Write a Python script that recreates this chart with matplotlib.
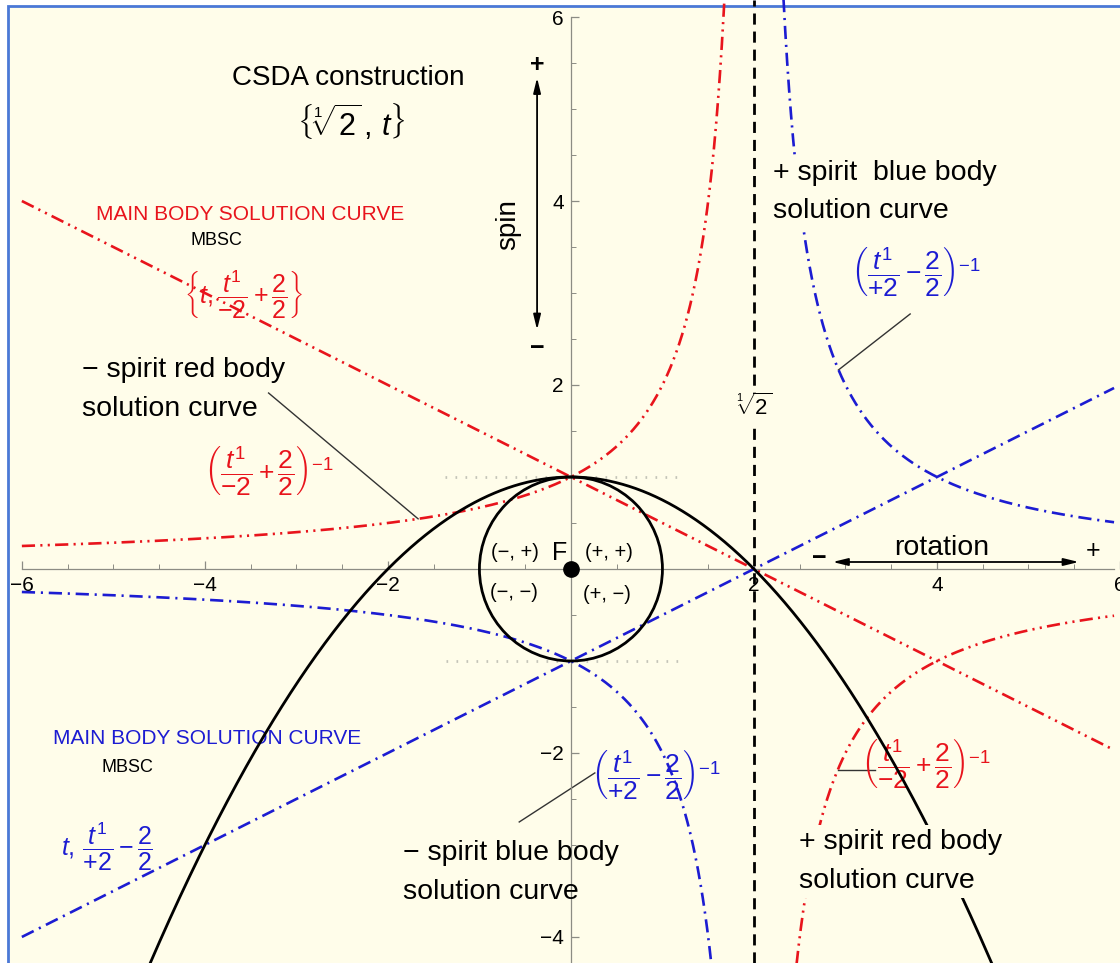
import numpy as np
import matplotlib
matplotlib.use('Agg')
import matplotlib.pyplot as plt
from matplotlib.patches import Circle, Rectangle
from matplotlib.ticker import MultipleLocator

plt.rcParams['font.family'] = ['Liberation Sans', 'DejaVu Sans']
plt.rcParams['mathtext.fontset'] = 'custom'
plt.rcParams['mathtext.rm'] = 'Liberation Sans'
plt.rcParams['mathtext.it'] = 'Liberation Sans:italic'
plt.rcParams['mathtext.bf'] = 'Liberation Sans:bold'

# construction parameters
root = 2.0          # shared root of the body curves (x = 2)
apex = 1.0          # height of the main parabola / circle radius
x_ticks = [-6, -4, -2, 2, 4, 6]
y_ticks = [-4, -2, 2, 4, 6]
quadrants = ['(\u2212, +)', '(+, +)', '(\u2212, \u2212)', '(+, \u2212)']

RED = '#e8141c'
BLUE = '#1c1cd2'
CREAM = '#fffdea'

xlim = (-6.239, 5.935)
ylim = (-4.283, 6.185)

fig = plt.figure(figsize=(11.2, 9.63), dpi=100)
fig.patch.set_facecolor('white')
fig.patches.append(Rectangle((0.007, -0.05), 1.2, 1.044, transform=fig.transFigure,
                             facecolor=CREAM, edgecolor='#4a78d6', lw=2, zorder=-5))
ax = fig.add_axes([0, 0, 1, 1])
ax.set_facecolor('none')
ax.set_xlim(*xlim)
ax.set_ylim(*ylim)

# axes through the origin
for side in ['top', 'right']:
    ax.spines[side].set_visible(False)
ax.spines['left'].set_position(('data', 0))
ax.spines['bottom'].set_position(('data', 0))
ax.spines['bottom'].set_bounds(-6, xlim[1])
ax.spines['left'].set_bounds(ylim[0], 6)
for side in ['left', 'bottom']:
    ax.spines[side].set_color('#8c8c84')
    ax.spines[side].set_linewidth(0.9)
ax.set_xticks(x_ticks)
ax.set_yticks(y_ticks)
ax.xaxis.set_minor_locator(MultipleLocator(0.5))
ax.yaxis.set_minor_locator(MultipleLocator(0.5))
ax.tick_params(which='both', direction='in', color='#8c8c84', labelsize=15, pad=5)
ax.tick_params(which='major', length=6, width=0.9)
ax.tick_params(which='minor', length=3.5, width=0.7)

x = np.linspace(-6, xlim[1], 4000)

# main body parabola and unit circle
ax.plot(x, apex - x**2 / (2 * root), color='black', lw=2, zorder=4)
ax.add_patch(Circle((0, 0), apex, fill=False, color='black', lw=2, zorder=4))

# main body solution lines
red_ls = (0, (5, 2, 0.8, 2, 0.8, 2))
blue_ls = (0, (5, 2.2, 0.8, 2.2))
ax.plot(x, x / -root + root / 2, color=RED, lw=1.9, ls=red_ls, zorder=3)
ax.plot(x, x / root - root / 2, color=BLUE, lw=1.9, ls=blue_ls, zorder=3)

# spirit body curves (reciprocals), split at the asymptote
for branch in [x[x < root - 1e-3], x[x > root + 1e-3]]:
    red = 1 / (branch / -root + root / 2)
    blue = 1 / (branch / root - root / 2)
    red[np.abs(red) > 12] = np.nan
    blue[np.abs(blue) > 12] = np.nan
    ax.plot(branch, red, color=RED, lw=1.9, ls=red_ls, zorder=3)
    ax.plot(branch, blue, color=BLUE, lw=1.9, ls=blue_ls, zorder=3)

# asymptote and tangent guides
ax.axvline(root, color='black', lw=2, ls=(0, (4, 2.5)), zorder=2)
ax.plot([-1.38, 1.2], [apex, apex], color='#c4c4b8', lw=2, ls=(0, (0.6, 3)), zorder=1)
ax.plot([-1.37, 1.26], [-apex, -apex], color='#c4c4b8', lw=2, ls=(0, (0.6, 3)), zorder=1)

# focus and quadrant labels
ax.plot(0, 0, 'o', color='black', ms=11, zorder=6)
ax.text(-0.12, 0.17, 'F', fontsize=18, ha='center', va='center', zorder=6)
for (qx, qy), q in zip([(-0.61, 0.18), (0.42, 0.18), (-0.62, -0.26), (0.39, -0.28)], quadrants):
    ax.text(qx, qy, q, fontsize=14.5, ha='center', va='center', zorder=6)

ax.text(root, 1.76, r'$\sqrt[1]{2}$', fontsize=16, ha='center', va='center',
        bbox=dict(facecolor=CREAM, edgecolor='none', pad=1), zorder=5)

# title
ax.text(-2.435, 5.337, 'CSDA construction', fontsize=20, ha='center', va='center')
ax.text(-2.40, 4.86, r'$\left\{\sqrt[1]{2}\,,\, t\right\}$', fontsize=22,
        ha='center', va='center')

# spin and rotation arrows
arrow = dict(arrowstyle='<|-|>,head_width=0.22,head_length=0.9', color='black', lw=1.3,
             shrinkA=0, shrinkB=0)
ax.annotate('', xy=(-0.37, 5.34), xytext=(-0.37, 2.6), arrowprops=arrow)
ax.text(-0.37, 5.48, '+', fontsize=18, ha='center', va='center', fontweight='bold')
ax.text(-0.37, 2.40, '\u2212', fontsize=18, ha='center', va='center', fontweight='bold')
ax.text(-0.69, 3.74, 'spin', fontsize=20, rotation=90, ha='center', va='center')
ax.annotate('', xy=(5.55, 0.076), xytext=(2.86, 0.076), arrowprops=arrow)
ax.text(2.71, 0.12, '\u2212', fontsize=18, ha='center', va='center', fontweight='bold')
ax.text(5.71, 0.2, '+', fontsize=18, ha='center', va='center')
ax.text(4.05, 0.23, 'rotation', fontsize=20.5, ha='center', va='center')

# red body labels
ax.text(-5.185, 3.85, 'MAIN BODY SOLUTION CURVE', color=RED, fontsize=15, va='center')
ax.text(-3.87, 3.57, 'MBSC', fontsize=13, ha='center', va='center')
ax.text(-3.58, 2.98, r'$\left\{t,\dfrac{t^1}{-2}+\dfrac{2}{2}\right\}$', color=RED,
        fontsize=18, ha='center', va='center')
ax.text(-5.34, 1.95, '\u2212 spirit red body\nsolution curve', fontsize=20.5,
        va='center', linespacing=1.62)
ax.text(-3.30, 1.065, r'$\left(\dfrac{t^1}{-2}+\dfrac{2}{2}\right)^{-1}$', color=RED,
        fontsize=19, ha='center', va='center')
ax.plot([-3.304, -1.67], [1.913, 0.545], color='#333333', lw=1)

ax.text(2.49, -3.18, '+ spirit red body\nsolution curve', fontsize=20.5,
        va='center', linespacing=1.62, zorder=5,
        bbox=dict(facecolor=CREAM, edgecolor='none', pad=3))
ax.text(3.88, -2.13, r'$\left(\dfrac{t^1}{-2}+\dfrac{2}{2}\right)^{-1}$', color=RED,
        fontsize=19, ha='center', va='center')
ax.plot([2.913, 3.326], [-2.19, -2.19], color='#333333', lw=1)

# blue body labels
ax.text(-5.66, -1.84, 'MAIN BODY SOLUTION CURVE', color=BLUE, fontsize=15, va='center')
ax.text(-4.85, -2.16, 'MBSC', fontsize=13, ha='center', va='center')
ax.text(-5.07, -3.02, r'$t,\,\dfrac{t^1}{+2}-\dfrac{2}{2}$', color=BLUE,
        fontsize=18, ha='center', va='center')
ax.text(2.207, 4.10, '+ spirit  blue body\nsolution curve', fontsize=20.5,
        va='center', linespacing=1.62, zorder=5,
        bbox=dict(facecolor=CREAM, edgecolor='none', pad=3))
ax.text(3.77, 3.22, r'$\left(\dfrac{t^1}{+2}-\dfrac{2}{2}\right)^{-1}$', color=BLUE,
        fontsize=19, ha='center', va='center')
ax.plot([3.707, 2.924], [2.772, 2.164], color='#333333', lw=1)

ax.text(-1.84, -3.30, '\u2212 spirit blue body\nsolution curve', fontsize=20.5,
        va='center', linespacing=1.62)
ax.text(0.93, -2.24, r'$\left(\dfrac{t^1}{+2}-\dfrac{2}{2}\right)^{-1}$', color=BLUE,
        fontsize=19, ha='center', va='center')
ax.plot([0.261, -0.565], [-2.217, -2.75], color='#333333', lw=1)

fig.savefig('out.png', dpi=100, facecolor=fig.get_facecolor())
